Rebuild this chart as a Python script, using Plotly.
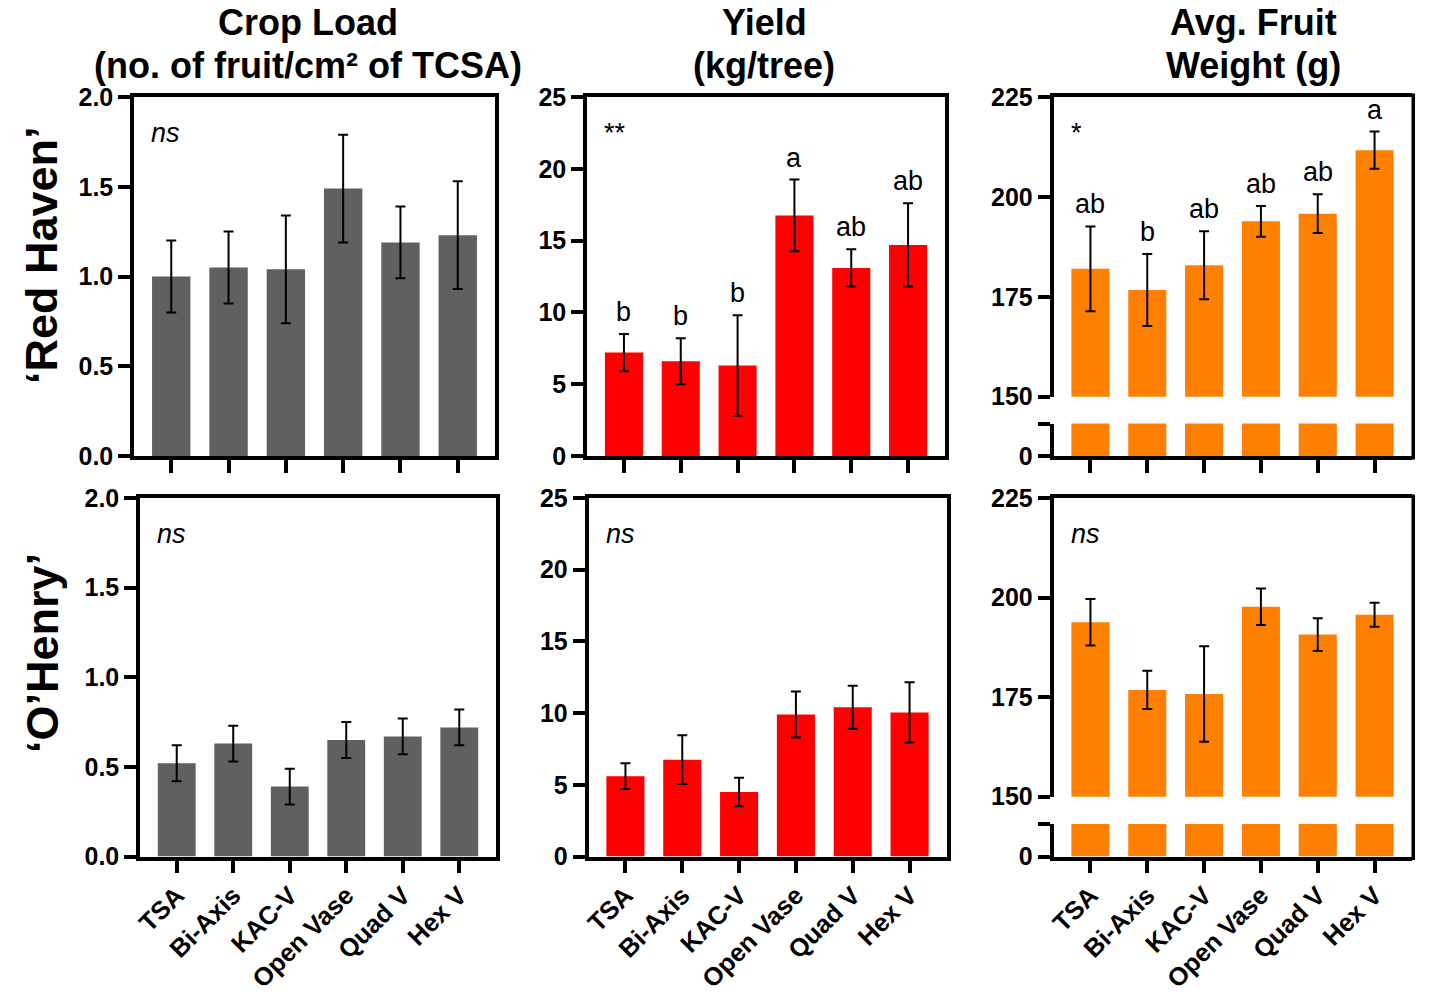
import plotly.graph_objects as go

# ---------------- data ----------------
categories = ["TSA", "Bi-Axis", "KAC-V", "Open Vase", "Quad V", "Hex V"]

rh_crop = [1.00, 1.05, 1.04, 1.49, 1.19, 1.23]
rh_crop_err = [0.20, 0.20, 0.30, 0.30, 0.20, 0.30]
rh_yield = [7.2, 6.6, 6.3, 16.75, 13.1, 14.7]
rh_yield_err = [1.3, 1.6, 3.5, 2.5, 1.3, 2.9]
rh_weight = [182.0, 176.7, 182.9, 193.9, 195.8, 211.7]
rh_weight_err = [10.6, 9.0, 8.5, 3.85, 4.85, 4.65]

oh_crop = [0.52, 0.63, 0.39, 0.65, 0.67, 0.72]
oh_crop_err = [0.10, 0.10, 0.10, 0.10, 0.10, 0.10]
oh_yield = [5.6, 6.75, 4.5, 9.9, 10.4, 10.05]
oh_yield_err = [0.9, 1.7, 1.0, 1.6, 1.5, 2.1]
oh_weight = [193.8, 176.8, 175.8, 197.7, 190.7, 195.7]
oh_weight_err = [5.85, 4.8, 12.0, 4.6, 4.1, 3.0]

rh_yield_letters = ["b", "b", "b", "a", "ab", "ab"]
rh_weight_letters = ["ab", "b", "ab", "ab", "ab", "a"]

stat_labels = {"1": "ns", "2": "**", "3": "*", "5": "ns", "6": "ns", "7": "ns"}

col_titles = [("Crop Load", "(no. of fruit/cm² of TCSA)"), ("Yield", "(kg/tree)"),
              ("Avg. Fruit", "Weight (g)")]
row_titles = ["‘Red Haven’", "‘O’Henry’"]

crop_ticks = [0.0, 0.5, 1.0, 1.5, 2.0]
yield_ticks = [0, 5, 10, 15, 20, 25]
weight_ticks = [150, 175, 200, 225]

GRAY = "#606060"
RED = "#FF0000"
ORANGE = "#FF8000"

W, H = 1430, 998
FONT = "Liberation Sans, Arial, sans-serif"
LW = 3.5


def px(x):
    return x / W


def py(y):
    return 1 - y / H


# plot-area boxes in pixels (left, right, top, bottom)
boxes = {
    "1": (134, 495, 97, 456),
    "2": (587, 945, 97, 456),
    "3": (1053.5, 1411.5, 97, 396.7),
    "4": (1053.5, 1411.5, 423.5, 456),
    "5": (140, 496, 498, 856.5),
    "6": (588.5, 946.5, 498, 856.5),
    "7": (1053.5, 1411.5, 498, 796.7),
    "8": (1053.5, 1411.5, 824, 856.5),
}
bottom_row = {"5", "6", "8"}

fig = go.Figure()

xrange_ = [-0.65, 5.65]


def ax_id(n):
    return "" if n == "1" else n


def add_bars(n, vals, errs, color, show_err=True):
    fig.add_trace(go.Bar(
        x=categories, y=vals, xaxis="x" + ax_id(n), yaxis="y" + ax_id(n),
        marker=dict(color=color, line=dict(width=0)),
        error_y=dict(type="data", array=errs, color="black", thickness=2, width=5, visible=show_err),
        showlegend=False,
    ))


add_bars("1", rh_crop, rh_crop_err, GRAY)
add_bars("2", rh_yield, rh_yield_err, RED)
add_bars("3", rh_weight, rh_weight_err, ORANGE)
add_bars("4", rh_weight, rh_weight_err, ORANGE, show_err=False)
add_bars("5", oh_crop, oh_crop_err, GRAY)
add_bars("6", oh_yield, oh_yield_err, RED)
add_bars("7", oh_weight, oh_weight_err, ORANGE)
add_bars("8", oh_weight, oh_weight_err, ORANGE, show_err=False)

ytickfont = dict(family=FONT, size=25, color="black", weight="bold")
xtickfont = dict(family=FONT, size=25.5, color="black", weight="bold")

layout = dict(
    width=W, height=H, margin=dict(l=0, r=0, t=0, b=0, pad=0, autoexpand=False),
    paper_bgcolor="white", plot_bgcolor="white", bargap=0.33,
    font=dict(family=FONT, color="black"),
)


def xax(n, anchor, side="bottom", mirror=True, ticks="outside", matches=None):
    l, r, t, b = boxes[n]
    d = dict(domain=[px(l), px(r)], range=xrange_, anchor=anchor, showline=True, linewidth=LW,
             linecolor="black", mirror=mirror, ticks=ticks, ticklen=13, tickwidth=LW, tickcolor="black",
             showgrid=False, zeroline=False, tickangle=-45, tickfont=xtickfont,
             showticklabels=(n in bottom_row), side=side, type="category", automargin=False,
             ticklabelstandoff=-3,
             categoryorder="array", categoryarray=categories, fixedrange=True)
    if matches:
        d["matches"] = matches
    return d


def yax(n, anchor, rng, tickvals, ticktext=None, mirror=True):
    l, r, t, b = boxes[n]
    d = dict(domain=[py(b), py(t)], range=rng, anchor=anchor, showline=True, linewidth=LW,
             linecolor="black", mirror=mirror, ticks="outside", ticklen=12, tickwidth=LW,
             tickcolor="black", showgrid=False, zeroline=False, tickvals=tickvals,
             tickfont=ytickfont, fixedrange=True, automargin=False)
    if ticktext is not None:
        d["ticktext"] = ticktext
    return d


layout["xaxis"] = xax("1", "y")
layout["yaxis"] = yax("1", "x", [0, 2], crop_ticks, [f"{v:.1f}" for v in crop_ticks])
layout["xaxis2"] = xax("2", "y2")
layout["yaxis2"] = yax("2", "x2", [0, 25], yield_ticks)
layout["xaxis3"] = xax("3", "y3", side="top", mirror=False, ticks="", matches="x4")
layout["yaxis3"] = yax("3", "x3", [150, 225], weight_ticks, mirror=False)
layout["xaxis4"] = xax("4", "y4", mirror=False)
layout["yaxis4"] = yax("4", "x4", [0, 8], [0, 8], ["0", ""], mirror=False)
layout["xaxis5"] = xax("5", "y5")
layout["yaxis5"] = yax("5", "x5", [0, 2], crop_ticks, [f"{v:.1f}" for v in crop_ticks])
layout["xaxis6"] = xax("6", "y6")
layout["yaxis6"] = yax("6", "x6", [0, 25], yield_ticks)
layout["xaxis7"] = xax("7", "y7", side="top", mirror=False, ticks="", matches="x8")
layout["yaxis7"] = yax("7", "x7", [150, 225], weight_ticks, mirror=False)
layout["xaxis8"] = xax("8", "y8", mirror=False)
layout["yaxis8"] = yax("8", "x8", [0, 8], [0, 8], ["0", ""], mirror=False)

fig.update_layout(**layout)

# right border of the broken-axis panels
shapes = []
for up, lo in (("3", "4"), ("7", "8")):
    l, r, t, _ = boxes[up]
    _, _, _, b = boxes[lo]
    shapes.append(dict(type="line", xref="paper", yref="paper", x0=px(r + LW / 2), x1=px(r + LW / 2),
                       y0=py(b + LW), y1=py(t - LW), line=dict(color="black", width=LW)))
fig.update_layout(shapes=shapes)

annotations = []
# significance labels top-left of each panel
for n, s in stat_labels.items():
    annotations.append(dict(
        text=s, xref="x" + ax_id(n) + " domain", yref="y" + ax_id(n) + " domain",
        x=0, y=1, xanchor="left", yanchor="middle", xshift=15, yshift=-36, showarrow=False,
        font=dict(family=FONT, size=27, color="black", style="italic" if s == "ns" else "normal")))

# letters above error bars
for n, vals, errs, letters in (("2", rh_yield, rh_yield_err, rh_yield_letters),
                               ("3", rh_weight, rh_weight_err, rh_weight_letters)):
    for c, v, e, t in zip(categories, vals, errs, letters):
        annotations.append(dict(text=t, x=c, y=v + e, xref="x" + n, yref="y" + n, xanchor="center",
                                yanchor="bottom", yshift=5, showarrow=False,
                                font=dict(family=FONT, size=27, color="black")))

# column titles
col_centers = [308, 764, 1253]
for cx, (l1, l2) in zip(col_centers, col_titles):
    for txt, cy in ((l1, 22), (l2, 66)):
        annotations.append(dict(text=txt, x=px(cx), y=py(cy), xref="paper", yref="paper",
                                xanchor="center", yanchor="middle", showarrow=False,
                                font=dict(family=FONT, size=36, color="black", weight="bold")))

# row titles
for txt, cy in zip(row_titles, [255, 653]):
    annotations.append(dict(text=txt, x=px(42), y=py(cy), xref="paper", yref="paper", textangle=-90,
                            xanchor="center", yanchor="middle", showarrow=False,
                            font=dict(family=FONT, size=45, color="black", weight="bold")))

fig.update_layout(annotations=annotations)

fig.write_html("out.html")
